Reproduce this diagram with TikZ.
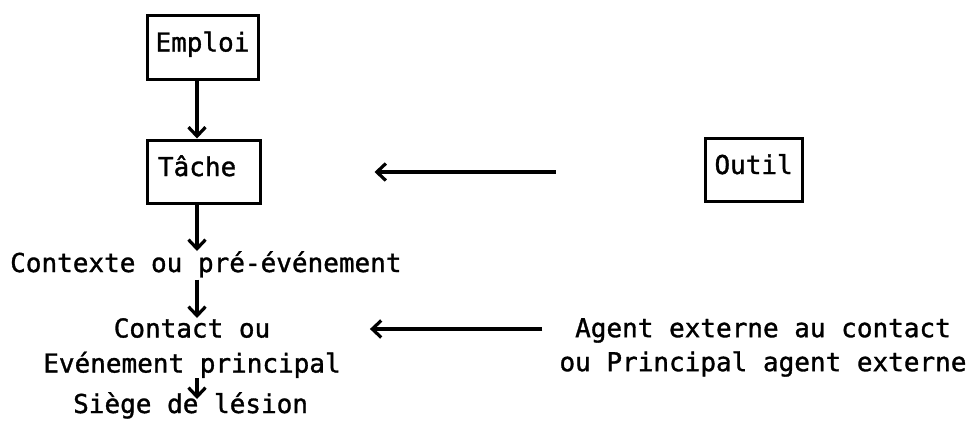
\documentclass[tikz,border=0pt]{standalone}
\usepackage{fontspec}
\setmonofont[FakeBold=1.2]{DejaVu Sans Mono}
\usetikzlibrary{arrows.meta,calc}
\begin{document}
\begin{tikzpicture}[x=1pt,y=-1pt,
  txt/.style={font=\ttfamily\fontsize{26}{35}\selectfont, inner sep=0pt},
  boxnode/.style={txt, draw, line width=3pt, minimum height=63pt,
    text height=19pt, text depth=10pt, inner ysep=0pt, align=left},
  arr/.style={line width=3.4pt, -{Straight Barb[length=9pt,width=17pt,line width=3.2pt]}}]
  \useasboundingbox (0,0) rectangle (977,421);

  % boxed entities
  \node[boxnode, text width=94pt, inner xsep=8.5pt, minimum height=64pt] (emploi) at (202.5,47) {Emploi};
  \node[boxnode, text width=91pt, inner xsep=11pt] (tache) at (203.5,171.5) {Tâche};
  \node[boxnode, text width=78pt, inner xsep=9.5pt] (outil) at (753.5,169.5) {Outil};

  % free text entities
  \node[txt, anchor=base west] (ctx) at (10,272) {Contexte ou pré-événement};
  \node[txt, align=center, anchor=north] (contact) at (192,318) {Contact ou\\Evénement principal};
  \node[txt, anchor=base west] (siege) at (73,413) {Siège de lésion};
  \node[txt, align=center, anchor=north, font=\ttfamily\fontsize{26}{34}\selectfont] (agent) at (763,318)
    {Agent externe au contact\\ou Principal agent externe};

  % vertical chain
  \draw[arr] (emploi.south -| 197,0) -- (tache.north -| 197,0);
  \draw[arr] (tache.south -| 197,0) -- (ctx.north -| 197,0);
  \draw[arr] ($(ctx.south -| 197,0)+(0,2)$) -- (contact.north -| 197,0);
  \draw[arr] (contact.south -| 197,0) -- ($(siege.north -| 197,0)+(0,7)$);

  % horizontal influences
  \draw[arr, shorten <=148pt, shorten >=113pt] (outil.west |- 0,172) -- (tache.east |- 0,172);
  \draw[arr, shorten <=17pt, shorten >=29pt] (agent.west |- 0,329) -- (contact.east |- 0,329);
\end{tikzpicture}
\end{document}
